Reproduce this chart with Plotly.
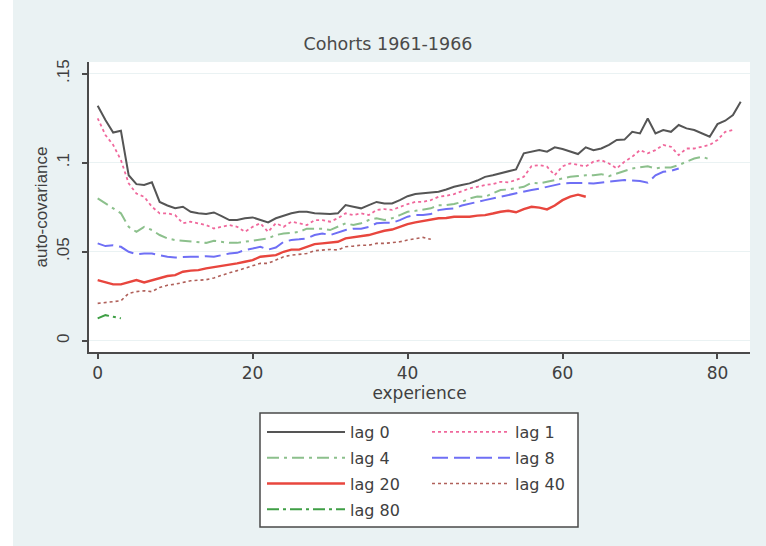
import plotly.graph_objects as go

# ---------------- data ----------------
lag0 = [.132, .124, .117, .118, .093, .088, .0875, .089, .078, .076,
        .0745, .0753, .0725, .0716, .0712, .0721, .070, .0678, .0678, .0688,
        .0693, .0678, .0665, .0688, .0702, .0716, .0725, .0725, .0716, .0712,
        .0712, .0716, .0762, .0753, .0744, .0762, .078, .0771, .0771, .079,
        .0812, .0825, .0828, .083, .0837, .085, .0865, .0875, .0884, .090,
        .0921, .093, .094, .095, .0963, .1053, .1062, .1071, .1062, .1087,
        .1077, .1062, .1049, .1087, .1071, .108, .110, .1128, .113, .1174,
        .1165, .1249, .1165, .1184, .1174, .1212, .1193, .1184, .1165, .1146,
        .1217, .1236, .1268, .1343]
lag1 = [.125, .1156, .110, .1015, .0884, .0827, .0809, .0753, .0716, .0716,
        .0706, .066, .0669, .066, .065, .0631, .064, .065, .064, .0612,
        .064, .066, .0612, .066, .064, .0669, .066, .065, .0678, .0678,
        .0669, .0688, .0716, .0706, .0716, .0706, .0735, .074, .0735, .0753,
        .0768, .078, .0781, .079, .0809, .0815, .0824, .084, .0856, .0865,
        .0875, .088, .0893, .089, .0903, .0921, .0981, .0987, .0978, .093,
        .098, .0996, .099, .098, .1006, .1015, .0996, .0968, .1006, .1034,
        .1071, .1053, .1071, .110, .109, .1043, .108, .108, .109, .110,
        .1128, .1174, .1184]
lag4 = [.080, .0771, .0744, .0716, .064, .0612, .064, .0622, .0594, .0575,
        .0566, .0562, .0556, .055, .055, .0562, .0556, .055, .055, .0556,
        .0566, .057, .0575, .0594, .0603, .0606, .0612, .063, .063, .063,
        .0622, .064, .066, .065, .066, .0678, .0688, .0678, .0688, .0706,
        .0725, .073, .0737, .0744, .0762, .0762, .0768, .078, .080, .081,
        .0809, .083, .0847, .085, .0856, .0865, .0888, .0884, .0893, .0903,
        .0912, .0921, .0925, .093, .093, .0936, .0925, .094, .0955, .0968,
        .0974, .098, .0968, .0974, .0974, .0987, .1006, .1024, .1034, .1019]
lag8 = [.0547, .0532, .0537, .0528, .050, .0487, .049, .049, .0481, .0472,
        .0468, .0472, .0472, .0472, .0475, .0472, .0481, .049, .0494, .051,
        .0518, .0528, .0512, .0524, .0556, .0566, .057, .0575, .0594, .0603,
        .0594, .0608, .0622, .063, .063, .064, .066, .0663, .0663, .0678,
        .0697, .0706, .0706, .0712, .0734, .074, .0743, .076, .0772, .078,
        .079, .080, .0809, .082, .0828, .0838, .0847, .0855, .0865, .0875,
        .0884, .0886, .0888, .0886, .0884, .0888, .0893, .0896, .0903, .090,
        .0897, .0888, .093, .0949, .0955, .0968]
lag20 = [.0341, .0328, .0317, .0317, .0331, .0341, .0328, .0341, .0354, .0364,
         .0369, .0388, .0394, .0397, .0407, .0413, .042, .0425, .0435, .0444,
         .0453, .0472, .0475, .0481, .050, .0512, .0512, .0528, .0543, .0547,
         .055, .0556, .0575, .058, .0588, .0594, .0606, .0618, .0625, .064,
         .0655, .0665, .0672, .068, .0688, .069, .0697, .0697, .0697, .0703,
         .0706, .0715, .0725, .073, .0722, .074, .0753, .0748, .0738, .076,
         .079, .081, .0821, .0809]
lag40 = [.021, .0214, .0218, .0225, .0266, .0276, .0281, .0276, .030, .0312,
         .0318, .0326, .0337, .034, .0343, .0353, .0369, .0382, .0394, .0407,
         .042, .0435, .0435, .0453, .0472, .0481, .0487, .049, .0506, .051,
         .0513, .051, .0528, .0532, .0537, .0537, .0547, .0547, .055, .0556,
         .0566, .0575, .0581, .057]
lag80 = [.0126, .0144, .0135, .0126]

x_ticks = [0, 20, 40, 60, 80]
y_ticks = [0, .05, .1, .15]
y_tick_labels = ["0", ".05", ".1", ".15"]

series = [
    ("lag 0", lag0, "#555555", "solid", 2.0, "legend"),
    ("lag 1", lag1, "#f0689c", "3px,3px", 1.8, "legend2"),
    ("lag 4", lag4, "#8cc08c", "12px,5px,3px,5px", 2.0, "legend"),
    ("lag 8", lag8, "#6f6ff5", "16px,6px", 2.0, "legend2"),
    ("lag 20", lag20, "#e8463e", "solid", 2.4, "legend"),
    ("lag 40", lag40, "#b0605a", "3px,3px", 1.6, "legend2"),
    ("lag 80", lag80, "#3f9f45", "12px,4px,3px,4px", 2.0, "legend"),
]

fig = go.Figure()
for name, vals, col, dash, w, leg in series:
    fig.add_trace(go.Scatter(
        x=list(range(len(vals))), y=vals, mode="lines", name=name,
        line=dict(color=col, dash=dash, width=w),
        legend=leg, legendgroup=name,
    ))

W, H = 766, 546
L, R, T, B = 89, 16, 62, 194
pw, ph = W - L - R, H - T - B

def px2paper_x(px):
    return (px - L) / pw

def py2paper_y(py):
    return (H - B - py) / ph

wide = "DejaVu Sans, sans-serif"
narrow = "Liberation Sans, Arial, sans-serif"
txt = "#404040"

fig.update_layout(
    width=W, height=H,
    margin=dict(l=L, r=R, t=T, b=B),
    paper_bgcolor="#EAF2F3",
    plot_bgcolor="white",
    font=dict(family=wide, color=txt, size=16),
    title=dict(text="Cohorts 1961-1966", x=px2paper_x(388), xref="paper",
               xanchor="center", y=1 - 44 / H, yref="container", yanchor="middle",
               font=dict(size=17.5, color="#4a4a4a", family=wide)),
    xaxis=dict(range=[-1.12, 84.2], tickvals=x_ticks, showgrid=False,
               zeroline=False, showline=True, linecolor="#4a4a4a", linewidth=2,
               ticks="outside", ticklen=5, tickwidth=1.5, tickcolor="#4a4a4a",
               tickfont=dict(size=17, color=txt, family=wide),
               title=dict(text="experience", font=dict(size=17, color=txt, family=wide),
                          standoff=0)),
    yaxis=dict(range=[-0.0063, 0.1566], tickvals=y_ticks, ticktext=y_tick_labels,
               tickangle=-90, showgrid=True, gridcolor="#EAF2F3", gridwidth=1,
               zeroline=False, showline=True, linecolor="#4a4a4a", linewidth=2,
               ticks="outside", ticklen=5, tickwidth=1.5, tickcolor="#4a4a4a",
               ticklabelstandoff=6,
               tickfont=dict(size=17, color=txt, family=narrow),
               title=dict(text="auto-covariance", font=dict(size=17, color=txt, family=narrow),
                          standoff=2)),
    legend=dict(x=px2paper_x(262), y=py2paper_y(415), xanchor="left", yanchor="top",
                bgcolor="rgba(0,0,0,0)", borderwidth=0, itemwidth=78,
                tracegroupgap=2, font=dict(size=16, color=txt, family=wide)),
    legend2=dict(x=px2paper_x(427), y=py2paper_y(415), xanchor="left", yanchor="top",
                 bgcolor="rgba(0,0,0,0)", borderwidth=0, itemwidth=78,
                 tracegroupgap=2, font=dict(size=16, color=txt, family=wide)),
    showlegend=True,
    shapes=[
        dict(type="rect", xref="paper", yref="paper",
             x0=px2paper_x(0), x1=px2paper_x(13), y0=py2paper_y(H), y1=py2paper_y(0),
             fillcolor="white", line=dict(width=0), layer="below"),
        dict(type="rect", xref="paper", yref="paper",
             x0=px2paper_x(260), x1=px2paper_x(578), y0=py2paper_y(527), y1=py2paper_y(413),
             fillcolor="white", line=dict(color="#4a4a4a", width=1.5), layer="above"),
    ],
)

fig.write_html("out.html")
